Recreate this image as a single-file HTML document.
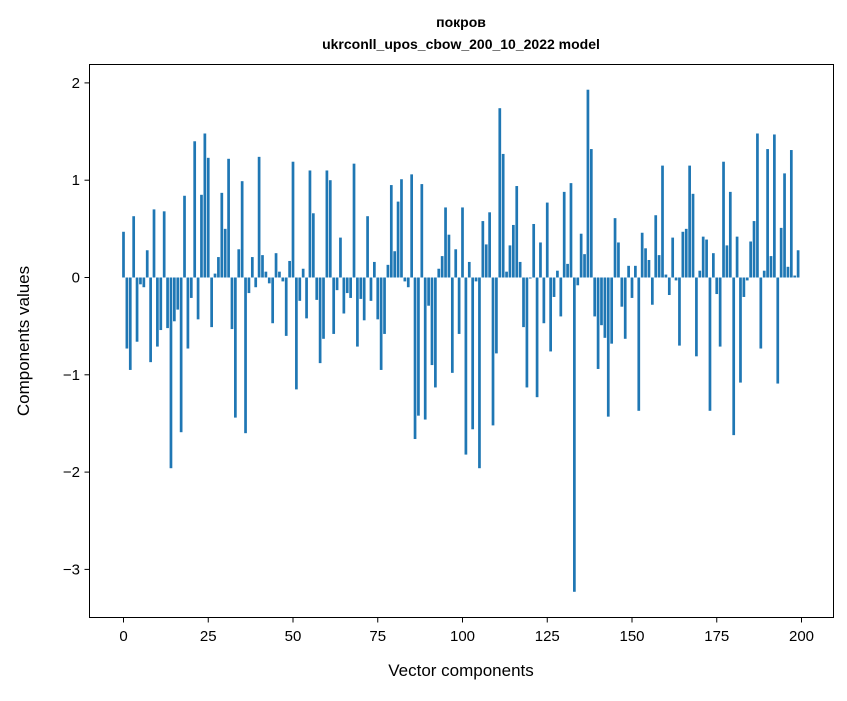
<!DOCTYPE html>
<html><head><meta charset="utf-8"><style>
body{margin:0;background:#fff;}
svg text{font-family:"Liberation Sans","DejaVu Sans",sans-serif;fill:#000;}
</style></head><body>
<svg id="chart" width="847" height="696" xmlns="http://www.w3.org/2000/svg">
<rect width="847" height="696" fill="#fff"/>
<text x="461" y="27" text-anchor="middle" font-size="14" font-weight="bold">покров</text>
<text x="461" y="49" text-anchor="middle" font-size="14" font-weight="bold">ukrconll_upos_cbow_200_10_2022 model</text>
<g id="bars"></g>
<g id="axes"></g>
<rect x="89.5" y="64.5" width="744" height="553" fill="none" stroke="#000" stroke-width="1"/>
<text x="461" y="676" text-anchor="middle" font-size="17">Vector components</text>
<text transform="translate(29,341) rotate(-90)" text-anchor="middle" font-size="17">Components values</text>
</svg>
<script>
const values = [0.47,-0.73,-0.95,0.63,-0.66,-0.07,-0.10,0.28,-0.87,0.70,
-0.71,-0.54,0.68,-0.52,-1.96,-0.45,-0.33,-1.59,0.84,-0.73,
-0.21,1.40,-0.43,0.85,1.48,1.23,-0.51,0.04,0.21,0.87,
0.50,1.22,-0.53,-1.44,0.29,0.99,-1.60,-0.16,0.21,-0.10,
1.24,0.23,0.06,-0.06,-0.47,0.25,0.06,-0.04,-0.60,0.17,
1.19,-1.15,-0.24,0.09,-0.42,1.10,0.66,-0.23,-0.88,-0.63,
1.10,1.00,-0.58,-0.13,0.41,-0.37,-0.16,-0.21,1.17,-0.71,
-0.22,-0.44,0.63,-0.24,0.16,-0.43,-0.95,-0.58,0.13,0.95,
0.27,0.78,1.01,-0.04,-0.10,1.06,-1.66,-1.42,0.96,-1.46,
-0.29,-0.90,-1.13,0.09,0.22,0.72,0.44,-0.98,0.29,-0.58,
0.72,-1.82,0.16,-1.56,-0.04,-1.96,0.58,0.34,0.67,-1.52,
-0.78,1.74,1.27,0.06,0.33,0.54,0.94,0.16,-0.51,-1.13,
-0.01,0.55,-1.23,0.36,-0.47,0.77,-0.76,-0.20,0.07,-0.40,
0.88,0.14,0.97,-3.23,-0.08,0.45,0.24,1.93,1.32,-0.40,
-0.94,-0.49,-0.62,-1.43,-0.68,0.61,0.36,-0.30,-0.63,0.12,
-0.21,0.12,-1.37,0.46,0.30,0.18,-0.28,0.64,0.23,1.15,
0.03,-0.18,0.41,-0.03,-0.70,0.47,0.50,1.15,0.86,-0.81,
0.07,0.42,0.39,-1.37,0.25,-0.17,-0.71,1.19,0.33,0.88,
-1.62,0.42,-1.08,-0.20,-0.03,0.37,0.58,1.48,-0.73,0.07,
1.32,0.22,1.47,-1.09,0.51,1.07,0.11,1.31,0.02,0.28];
const xTicks = [0,25,50,75,100,125,150,175,200];
const yTicks = [-3,-2,-1,0,1,2];
const NS="http://www.w3.org/2000/svg";
const xs = v => 123.5 + v*3.39;
const ys = v => 277.5 - v*97.3;
const bars = document.getElementById('bars');
values.forEach((v,i)=>{
  const r=document.createElementNS(NS,'rect');
  
  
  const w=0.8*3.39;
  r.setAttribute('x',xs(i)-w/2);
  r.setAttribute('width',w);
  r.setAttribute('y',Math.min(ys(v),ys(0)));
  r.setAttribute('height',Math.abs(ys(v)-ys(0)));
  r.setAttribute('fill','#1f77b4');
  bars.appendChild(r);
});
const axes=document.getElementById('axes');
xTicks.forEach(t=>{
  const l=document.createElementNS(NS,'line');
  
  
  l.setAttribute('x1',xs(t));l.setAttribute('x2',xs(t));
  l.setAttribute('y1',617.5);l.setAttribute('y2',622.5);
  l.setAttribute('stroke','#000');
  axes.appendChild(l);
  const tx=document.createElementNS(NS,'text');
  
  
  tx.setAttribute('x',xs(t));tx.setAttribute('y',641);
  tx.setAttribute('text-anchor','middle');tx.setAttribute('font-size','15');
  tx.textContent=t;
  axes.appendChild(tx);
});
yTicks.forEach(t=>{
  const l=document.createElementNS(NS,'line');
  
  
  l.setAttribute('x1',84.5);l.setAttribute('x2',89.5);
  l.setAttribute('y1',ys(t));l.setAttribute('y2',ys(t));
  l.setAttribute('stroke','#000');
  axes.appendChild(l);
  const tx=document.createElementNS(NS,'text');
  
  
  tx.setAttribute('x',80);tx.setAttribute('y',ys(t)+5);
  tx.setAttribute('text-anchor','end');tx.setAttribute('font-size','15');
  tx.textContent=t<0?'\u2212'+Math.abs(t):String(t);
  axes.appendChild(tx);
});
</script>
</body></html>
